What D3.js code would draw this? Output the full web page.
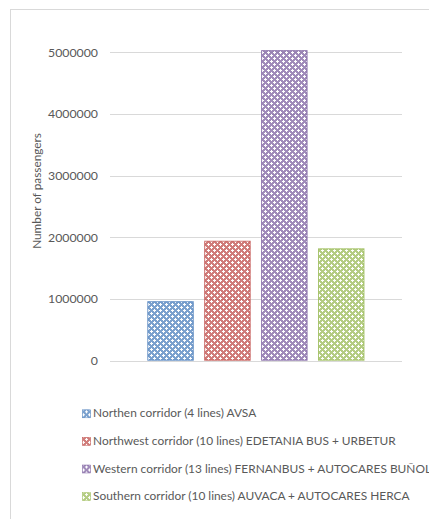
<!DOCTYPE html>
<html><head><meta charset="utf-8">
<script src="https://cdn.jsdelivr.net/npm/d3@7"></script>
<style>
html,body{margin:0;padding:0;background:#fff;overflow:hidden;}
svg{display:block;font-family:Lato,"Open Sans",sans-serif;}
</style></head>
<body>
<svg id="c" width="429" height="519"></svg>
<script>
const categories = [
  "Northen corridor (4 lines) AVSA",
  "Northwest corridor (10 lines) EDETANIA BUS + URBETUR",
  "Western corridor (13 lines) FERNANBUS + AUTOCARES BUÑOL",
  "Southern corridor (10 lines) AUVACA + AUTOCARES HERCA"
];
const values = [965000, 1945000, 5035000, 1822000];
const colors = ["#4f81bd", "#c0504d", "#8064a2", "#9bbb59"];
const yTicks = [0, 1000000, 2000000, 3000000, 4000000, 5000000];
const yTitle = "Number of passengers";

const svg = d3.select("#c");
const defs = svg.append("defs");
colors.forEach((c, i) => {
  const p = defs.append("pattern").attr("id", "pat" + i)
    .attr("patternUnits", "userSpaceOnUse").attr("width", 6).attr("height", 6);
  p.append("rect").attr("width", 6).attr("height", 6).attr("fill", c).attr("opacity", 0.75);
  [[1, 1], [4, 4]].forEach(([cx, cy]) => {
    p.append("rect").attr("x", cx).attr("y", cy - 1).attr("width", 1).attr("height", 3).attr("fill", "#fff");
    p.append("rect").attr("x", cx - 1).attr("y", cy).attr("width", 3).attr("height", 1).attr("fill", "#fff");
  });
});

// frame
svg.append("line").attr("x1", 10.5).attr("x2", 10.5).attr("y1", 9.5).attr("y2", 519).attr("stroke", "#d9d9d9");
svg.append("line").attr("x1", 10).attr("x2", 429).attr("y1", 9.5).attr("y2", 9.5).attr("stroke", "#d9d9d9");

const plotL = 110, plotR = 402;
const y = d3.scaleLinear().domain([0, 5000000]).range([360.7, 52.3]);
const x = d3.scaleBand().domain(categories).range([147.3, 364.5]).paddingInner(0.183).paddingOuter(0);

// gridlines
svg.append("g").selectAll("line").data(yTicks).join("line")
  .attr("x1", plotL).attr("x2", plotR)
  .attr("y1", d => Math.round(y(d)) + 0.5).attr("y2", d => Math.round(y(d)) + 0.5)
  .attr("stroke", "#d9d9d9").attr("stroke-width", 1);

// y axis labels
const yAxis = d3.axisLeft(y).tickValues(yTicks).tickSize(0).tickPadding(0).tickFormat(d3.format("d"));
const ga = svg.append("g").attr("transform", "translate(98,0)").call(yAxis);
ga.select(".domain").remove();
ga.selectAll("text").attr("fill", "#595959").attr("font-size", "12.3px").attr("font-family", "Lato,'Open Sans',sans-serif");

// bars
svg.append("g").selectAll("rect").data(values).join("rect")
  .attr("x", (d, i) => x(categories[i]) + 0.5)
  .attr("width", x.bandwidth() - 1)
  .attr("y", d => y(d) + 0.5)
  .attr("height", d => y(0) - y(d) - 1)
  .attr("fill", (d, i) => `url(#pat${i})`)
  .attr("stroke", (d, i) => colors[i]).attr("stroke-width", 1).attr("stroke-opacity", 0.8);

// y title
svg.append("text").attr("transform", "translate(40.5,191) rotate(-90)")
  .attr("text-anchor", "middle").attr("fill", "#595959").attr("font-size", "11.8px")
  .text(yTitle);

// legend
const lg = svg.append("g").selectAll("g").data(categories).join("g")
  .attr("transform", (d, i) => `translate(82,${413.3 + i * 27.6})`);
lg.append("rect").attr("x", 0.5).attr("y", -3.5).attr("width", 8).attr("height", 8)
  .attr("fill", (d, i) => `url(#pat${i})`).attr("stroke", (d, i) => colors[i]).attr("stroke-width", 0.5);
lg.append("text").attr("x", 11).attr("y", 0).attr("dy", "0.35em")
  .attr("fill", "#595959").attr("font-size", "11.9px").text(d => d);
</script>
</body></html>
